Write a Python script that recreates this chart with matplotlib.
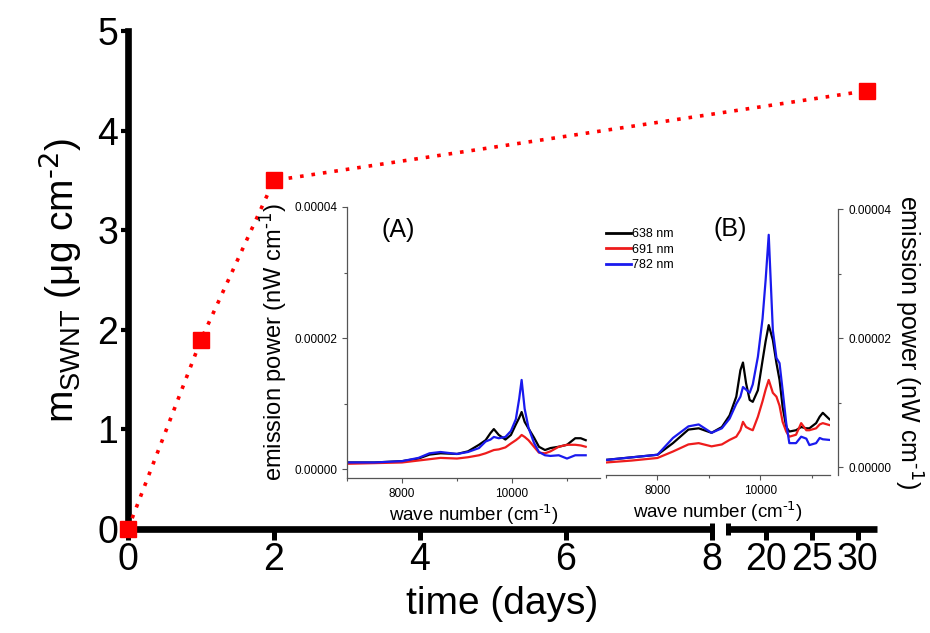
import matplotlib
matplotlib.use("Agg")
import matplotlib.pyplot as plt
import numpy as np
from matplotlib.ticker import FixedLocator, MultipleLocator, FormatStrFormatter

plt.rcParams.update({
    "font.family": ["Liberation Sans", "DejaVu Sans"],
    "mathtext.default": "regular",
})

# main chart: deposited SWNT mass vs time
days = [0, 1, 2, 31]
mass = [0.0, 1.9, 3.5, 4.4]
day_ticks = [0, 2, 4, 6, 8, 20, 25, 30]

# inset (A) spectra, emission power in units of 1e-5 nW cm^-1
wn_a = [7000, 7500, 8000, 8300, 8500, 8700, 9000, 9200, 9400, 9520, 9610,
        9670, 9760, 9880, 9980, 10070, 10130, 10175, 10230, 10300, 10400,
        10490, 10600, 10700, 10850, 11000, 11150, 11250, 11340]
a_638 = [0.10, 0.10, 0.12, 0.16, 0.22, 0.24, 0.23, 0.27, 0.37, 0.44, 0.55,
         0.61, 0.52, 0.45, 0.52, 0.68, 0.78, 0.87, 0.72, 0.62, 0.48,
         0.34, 0.29, 0.32, 0.34, 0.37, 0.47, 0.47, 0.44]
a_691 = [0.08, 0.09, 0.10, 0.13, 0.15, 0.17, 0.16, 0.18, 0.21, 0.24, 0.27,
         0.29, 0.30, 0.33, 0.39, 0.44, 0.48, 0.52, 0.49, 0.44, 0.34,
         0.25, 0.24, 0.27, 0.34, 0.37, 0.37, 0.36, 0.34]
a_782 = [0.10, 0.10, 0.12, 0.17, 0.24, 0.26, 0.23, 0.26, 0.32, 0.42, 0.45,
         0.49, 0.47, 0.49, 0.58, 0.76, 1.07, 1.36, 0.92, 0.63, 0.40,
         0.26, 0.21, 0.20, 0.21, 0.16, 0.21, 0.21, 0.21]

# inset (B) spectra
wn_b = [7000, 7500, 8000, 8300, 8600, 8800, 9050, 9250, 9400, 9530, 9610,
        9660, 9720, 9790, 9850, 9950, 10040, 10100, 10160, 10240, 10310,
        10370, 10430, 10500, 10560, 10690, 10790, 10890, 10950, 11080,
        11150, 11210, 11340]
b_638 = [0.11, 0.15, 0.19, 0.37, 0.58, 0.60, 0.53, 0.62, 0.80, 1.09, 1.50,
         1.62, 1.30, 1.04, 1.01, 1.19, 1.65, 1.95, 2.20, 1.97, 1.61,
         1.35, 0.93, 0.62, 0.55, 0.57, 0.62, 0.60, 0.60, 0.68,
         0.78, 0.84, 0.74]
b_691 = [0.07, 0.10, 0.14, 0.24, 0.35, 0.37, 0.32, 0.35, 0.42, 0.47, 0.57,
         0.70, 0.62, 0.59, 0.57, 0.78, 1.02, 1.20, 1.35, 1.15, 1.09,
         0.95, 0.70, 0.55, 0.47, 0.50, 0.68, 0.57, 0.57, 0.60,
         0.66, 0.68, 0.65]
b_782 = [0.11, 0.15, 0.19, 0.45, 0.63, 0.66, 0.53, 0.60, 0.75, 0.98, 1.09,
         1.24, 1.20, 1.15, 1.28, 1.71, 2.30, 2.90, 3.60, 2.12, 1.69,
         1.61, 1.19, 0.68, 0.37, 0.37, 0.47, 0.44, 0.34, 0.37,
         0.45, 0.43, 0.42]

labels = ["638 nm", "691 nm", "782 nm"]
colors = ["black", "#ee1c1c", "#1a1aee"]

W, H = 930, 633
fig = plt.figure(figsize=(W / 100, H / 100), dpi=100)

# ---- main axes with a broken time axis ----
ax = fig.add_axes([128 / W, 1 - 529 / H, 749 / W, 498 / H])

# piecewise scale: 0-8 d wide, squeezed gap, then 16-32 d narrow
KD = [-50, 0, 8, 15.8, 32.1, 100]
KP = [-50 * 73, 0, 584, 600, 749, 749 + 67.9 * 9.09]


def fwd(d):
    return np.interp(d, KD, KP)


def inv(p):
    return np.interp(p, KP, KD)


ax.set_xscale("function", functions=(fwd, inv))
ax.set_xlim(0, 32.1)
ax.set_ylim(0, 5)

for s in ["top", "right", "bottom"]:
    ax.spines[s].set_visible(False)
ax.spines["left"].set_linewidth(4.8)
ax.spines["left"].set_bounds(0, 5)

seg1 = (0, 8)
seg2 = (15.8, 32.1)
for seg in (seg1, seg2):
    ax.plot(seg, [0, 0], color="black", lw=4.8, solid_capstyle="butt",
            clip_on=False, zorder=2)
ax.plot([seg1[1], seg2[0]], [0, 0], ls="none", marker="|", ms=8.5, mew=3.6,
        color="black", clip_on=False, zorder=2)

ax.xaxis.set_major_locator(FixedLocator(day_ticks))
ax.set_xticklabels([str(t) for t in day_ticks])
ax.yaxis.set_major_locator(FixedLocator([0, 1, 2, 3, 4, 5]))
ax.tick_params(axis="x", length=8, width=3.6, pad=1, labelsize=27)
ax.tick_params(axis="y", length=5, width=3, pad=2, labelsize=27)

ax.plot(days, mass, color="red", ls=(0, (1, 2.2)), lw=2.6, marker="s",
        ms=11, clip_on=False, zorder=4)

ax.set_xlabel("time (days)", fontsize=28, labelpad=6)
ax.set_ylabel(r"m$_{SWNT}$ (μg cm$^{\text{-2}}$)", fontsize=28, labelpad=10)

# ---- inset (A) ----
axA = fig.add_axes([347 / W, 1 - 478 / H, 253 / W, 271 / H])
axA.set_facecolor("none")
for y, c in zip([a_638, a_691, a_782], colors):
    axA.plot(wn_a, np.array(y) * 1e-5, color=c, lw=1.6)
axA.set_xlim(7000, 11600)
axA.set_ylim(-0.137e-5, 4e-5)
axA.spines["top"].set_visible(False)
axA.spines["right"].set_visible(False)

# ---- inset (B) ----
axB = fig.add_axes([606 / W, 1 - 475 / H, 224 / W, 266 / H])
axB.set_facecolor("none")
for y, c, lab in zip([b_638, b_691, b_782], colors, labels):
    axB.plot(wn_b, np.array(y) * 1e-5, color=c, lw=1.6, label=lab)
axB.set_xlim(7000, 11350)
axB.set_ylim(-0.124e-5, 4e-5)
axB.spines["top"].set_visible(False)
axB.spines["left"].set_visible(False)
axB.spines["right"].set_position(("outward", 6))
axB.yaxis.tick_right()
axB.yaxis.set_label_position("right")

for a in (axA, axB):
    for s in a.spines.values():
        s.set_color("#555555")
        s.set_linewidth(0.9)
    a.yaxis.set_major_locator(FixedLocator([0, 2e-5, 4e-5]))
    a.yaxis.set_minor_locator(FixedLocator([1e-5, 3e-5]))
    a.yaxis.set_major_formatter(FormatStrFormatter("%.5f"))
    a.xaxis.set_major_locator(FixedLocator([8000, 10000]))
    a.xaxis.set_minor_locator(MultipleLocator(1000))
    a.tick_params(which="both", colors="#555555", labelcolor="black",
                  width=0.8, labelsize=8.5)
    a.tick_params(which="major", length=3.5)
    a.tick_params(which="minor", length=2.5)
    a.set_xlabel(r"wave number (cm$^{\text{-1}}$)", fontsize=13.5,
                 labelpad=2)

axA.set_ylabel(r"emission power (nW cm$^{\text{-1}}$)", fontsize=17)
axA.yaxis.set_label_coords(-0.229, 0.5)
axB.set_ylabel(r"emission power (nW cm$^{\text{-1}}$)", fontsize=18,
               rotation=270, labelpad=24)

leg = axB.legend(loc="upper left", bbox_to_anchor=(606 / W, 1 - 228 / H),
                 bbox_transform=fig.transFigure, frameon=False,
                 borderaxespad=0, borderpad=0, handlelength=2.0,
                 handletextpad=0.1, labelspacing=0.3,
                 prop={"size": 9})
for ln in leg.get_lines():
    ln.set_linewidth(2)

fig.text(398 / W, 1 - 230 / H, "(A)", fontsize=18, ha="center", va="center")
fig.text(730 / W, 1 - 229 / H, "(B)", fontsize=18, ha="center", va="center")

fig.savefig("out.png", dpi=100)
